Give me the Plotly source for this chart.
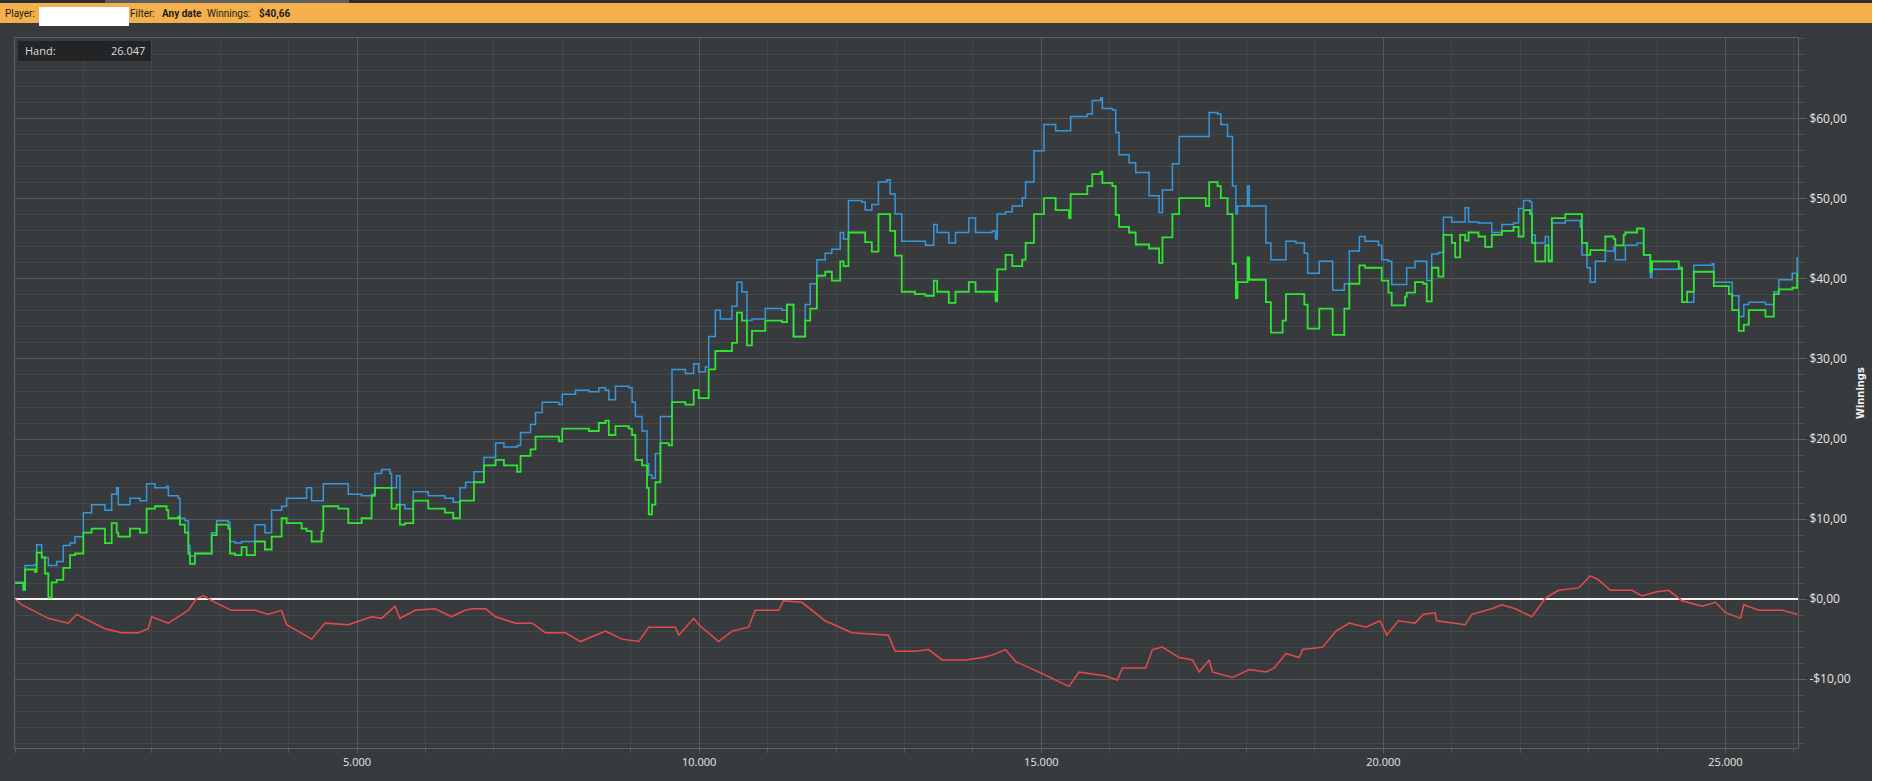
import plotly.graph_objects as go

# DADOS
hands = [0, 122, 146, 292, 317, 390, 438, 487, 536, 609, 706, 804, 877, 999, 1120, 1315, 1413, 1486, 1510,
         1680, 1827, 1924, 2046, 2216, 2241, 2387, 2411, 2484, 2533, 2557, 2630, 2801, 2874, 2947, 3117,
         3142, 3215, 3312, 3385, 3507, 3653, 3751, 3897, 3970, 4189, 4262, 4335, 4481, 4506, 4725, 4871,
         5066, 5212, 5261, 5358, 5480, 5504, 5577, 5626, 5699, 5821, 6040, 6283, 6405, 6503,
         6586, 6708, 6854, 7024, 7146, 7341, 7389, 7535, 7608, 7706, 7949, 7998, 8192, 8387, 8533, 8630,
         8679, 8776, 8971, 9019, 9068, 9165, 9238, 9263, 9311, 9360, 9433, 9555, 9603, 9798, 9920, 9993,
         10090, 10139, 10236, 10309, 10479, 10552, 10625, 10698, 10771, 10966, 11209, 11282, 11379, 11550,
         11623, 11720, 11842, 11939, 12061, 12109, 12182, 12377, 12426, 12523, 12620, 12742, 12791, 12864,
         12961, 13156, 13307, 13429, 13478, 13649, 13746, 13941, 14039, 14283, 14332, 14356, 14478, 14576,
         14722, 14771, 14893, 15039, 15210, 15405, 15429, 15673, 15746, 15868, 15893, 16039, 16088, 16137,
         16283, 16380, 16576, 16722, 16771, 16917, 17015, 17405, 17454, 17576, 17624, 17722, 17795, 17844,
         17868, 18015, 18039, 18259, 18283, 18356, 18527, 18576, 18722, 18844, 18893, 19063, 19259, 19429,
         19502, 19649, 19732, 19927, 19976, 20073, 20122, 20317, 20341, 20463, 20585, 20634, 20707, 20805,
         20878, 21000, 21049, 21122, 21195, 21244, 21390, 21488, 21585, 21732, 21902, 21976, 22049, 22146,
         22171, 22220, 22366, 22415, 22463, 22659, 22878, 22902, 22976, 23024, 23098, 23244, 23366, 23390,
         23512, 23537, 23707, 23805, 23902, 23927, 24122, 24317, 24366, 24439, 24537, 24805, 24829, 25049,
         25098, 25195, 25268, 25341, 25585, 25707, 25780, 25976, 26024, 26047]
showdown = [2.1, 1.1, 4.2, 4.4, 6.8, 5.2, 5.2, 4.2, 4.2, 4.7, 6.7, 7.0, 7.8, 10.8, 11.8, 11.1, 13.1, 13.9, 11.8,
            12.6, 12.3, 14.4, 13.9, 14.1, 12.9, 12.6, 10.1, 9.8, 6.7, 5.4, 5.7, 5.7, 8.3, 9.8, 9.6,
            7.2, 7.0, 7.2, 7.2, 9.3, 8.3, 11.1, 11.6, 12.6, 12.6, 13.9, 12.3, 12.3, 14.4, 14.4, 13.1,
            12.9, 13.1, 15.7, 16.2, 15.7, 13.9, 15.4, 11.8, 11.3, 13.4, 12.9, 12.6, 12.1, 13.9,
            14.6, 15.9, 17.7, 19.5, 19.0, 19.2, 20.8, 21.8, 23.3, 24.6, 24.3, 25.6, 26.1, 25.9, 26.4, 26.1,
            24.9, 26.6, 26.4, 24.6, 22.8, 21.0, 16.9, 15.5, 15.1, 18.2, 22.8, 22.8, 28.7, 28.2, 29.4, 28.4,
            29.0, 32.8, 36.1, 35.0, 36.6, 39.6, 38.4, 34.8, 35.0, 36.3, 36.1, 36.8, 32.8, 36.8,
            39.4, 42.4, 43.2, 43.7, 45.8, 45.0, 49.8, 49.6, 48.6, 49.3, 52.1, 52.4, 50.6, 48.1,
            44.7, 44.7, 44.2, 46.8, 45.8, 44.5, 45.8, 47.6, 45.8, 46.0, 45.0, 48.1, 48.4, 49.1,
            50.1, 52.1, 56.0, 59.3, 58.5, 58.5, 60.3, 60.6, 62.3, 62.6, 61.3, 61.1, 58.3, 55.5,
            54.5, 53.3, 50.4, 48.3, 51.1, 54.4, 57.8, 57.8, 60.8, 60.6, 59.3, 57.8, 51.6, 48.1,
            49.1, 51.6, 49.1, 49.1, 44.5, 42.4, 42.4, 44.7, 44.5, 43.2, 40.7, 42.2, 38.6, 39.4,
            43.5, 45.3, 44.7, 44.2, 42.4, 42.2, 39.3, 39.3, 41.4, 42.2, 42.2, 39.8, 43.1, 43.3,
            47.7, 47.1, 47.1, 47.1, 48.9, 47.1, 47.0, 47.0, 45.8, 46.8, 47.0, 48.8, 49.8, 49.6,
            45.5, 44.5, 45.3, 42.4, 47.0, 47.3, 46.5, 43.0, 41.4, 39.6, 42.2, 43.5, 44.0, 42.4,
            42.4, 44.2, 44.5, 43.0, 40.2, 41.2, 41.2, 41.2, 37.1, 37.1, 41.7, 41.9, 39.6, 39.6,
            37.9, 35.3, 36.8, 37.1, 36.8, 38.4, 39.9, 40.7, 40.7, 42.7]
net_won = [2.0, 1.2, 3.7, 3.4, 5.8, 5.2, 3.2, 0.2, 2.1, 2.4, 3.9, 5.5, 5.7, 8.3, 8.8, 7.0, 9.5, 8.3, 7.8,
           8.8, 8.3, 11.3, 11.6, 11.1, 10.1, 10.3, 9.3, 8.3, 5.7, 4.4, 5.7, 5.7, 8.0, 9.3, 8.8,
           5.7, 5.5, 6.5, 5.5, 7.2, 6.2, 7.8, 10.1, 9.5, 8.8, 8.5, 7.2, 8.5, 11.6, 11.3, 9.5,
           10.1, 12.9, 13.9, 13.9, 13.9, 11.3, 11.8, 9.3, 9.5, 12.3, 11.3, 10.8, 10.1, 12.3,
           12.3, 14.6, 16.7, 17.4, 16.7, 15.9, 17.9, 18.7, 20.3, 20.3, 19.7, 21.3, 21.3, 21.0, 22.0, 22.3,
           20.5, 21.6, 21.3, 20.5, 17.4, 16.7, 13.9, 10.6, 11.8, 14.6, 19.5, 19.2, 24.6, 24.3, 26.1, 25.1,
           25.1, 28.7, 31.0, 31.0, 32.0, 35.8, 34.8, 31.7, 33.5, 34.8, 34.6, 36.8, 32.8, 34.8,
           36.3, 40.4, 40.9, 39.8, 42.2, 41.6, 45.8, 45.8, 44.6, 43.4, 48.1, 48.1, 46.0, 42.9,
           38.4, 38.1, 37.9, 39.8, 38.4, 37.0, 38.4, 39.6, 38.4, 38.4, 37.2, 41.2, 43.0, 41.6,
           42.4, 44.5, 48.1, 50.1, 48.6, 47.6, 50.6, 51.6, 53.1, 53.4, 52.0, 51.6, 48.0, 46.5,
           45.8, 44.3, 43.8, 42.0, 45.2, 48.1, 50.1, 49.1, 52.1, 51.6, 50.1, 48.1, 41.9, 37.6,
           39.6, 42.7, 39.9, 39.9, 37.1, 33.3, 34.8, 38.1, 38.1, 36.8, 33.8, 36.3, 33.0, 36.3,
           39.4, 41.7, 41.4, 41.4, 39.8, 38.3, 36.7, 37.8, 38.3, 39.6, 39.4, 37.2, 41.4, 40.3,
           45.5, 44.5, 42.7, 45.5, 44.8, 45.8, 45.3, 44.0, 45.5, 46.0, 46.5, 45.3, 48.6, 48.1,
           44.5, 42.2, 44.2, 42.2, 47.6, 48.1, 48.1, 44.5, 43.0, 43.6, 43.6, 45.3, 45.0, 44.2,
           45.5, 45.8, 46.3, 43.0, 40.9, 42.2, 42.2, 41.4, 37.1, 38.4, 40.9, 40.9, 39.1, 38.1,
           36.1, 33.5, 34.3, 36.1, 35.3, 38.1, 38.7, 38.9, 38.9, 40.66]

hands_nsd = [0, 97, 487, 779, 901, 1315, 1559, 1802, 1948, 1997, 2241, 2533, 2655, 2752, 2923, 3166, 3507,
             3702, 3897, 3970, 4238, 4335, 4530, 4871, 5212, 5358, 5553, 5626, 5845, 6137, 6381, 6576,
             6684, 6878, 7024, 7316, 7560, 7754, 8046, 8265, 8630, 8873, 9117, 9263, 9652, 9701, 9920,
             9993, 10285, 10479, 10722, 10820, 11160, 11233, 11501, 11842, 12231, 12766, 12864, 13156,
             13356, 13551, 13893, 14137, 14283, 14478, 14624, 15015, 15405, 15551, 15941, 16112, 16185,
             16527, 16624, 16771, 17015, 17210, 17307, 17454, 17502, 17795, 18039, 18283, 18405, 18576,
             18771, 18820, 19112, 19307, 19502, 19746, 19951, 20049, 20220, 20463, 20585, 20756, 20780,
             21049, 21195, 21293, 21585, 21732, 21927, 22171, 22366, 22561, 22854, 23024, 23146, 23317,
             23634, 23780, 23976, 24171, 24366, 24659, 24854, 25000, 25220, 25268, 25488, 25829, 26047]
non_showdown = [0, -0.7, -2.4, -3.0, -1.9, -3.7, -4.2, -4.2, -3.7, -2.2, -3.0, -1.4, 0.1, 0.4, -0.4, -1.4, -1.4,
                -1.9, -1.4, -3.2, -4.5, -5.0, -3.0, -3.2, -2.2, -2.4, -0.9, -2.4, -1.4, -1.2, -2.2, -1.4,
                -1.2, -1.2, -2.2, -3.0, -3.0, -4.2, -4.2, -5.3, -4.0, -5.0, -5.3, -3.5, -3.5, -4.5, -2.4,
                -3.2, -5.3, -4.0, -3.5, -1.4, -1.4, -0.2, -0.4, -2.7, -4.2, -4.5, -6.5, -6.5,
                -6.3, -7.6, -7.6, -7.3, -7.0, -6.3, -7.8, -9.3, -10.9, -9.1, -9.6, -10.1, -8.6,
                -8.6, -6.3, -6.0, -7.3, -7.6, -9.1, -7.6, -9.1, -9.8, -8.8, -9.1, -8.6, -6.8,
                -7.3, -6.3, -6.0, -4.0, -3.0, -3.5, -2.7, -4.5, -2.7, -3.0, -1.9, -1.7, -2.7,
                -3.0, -3.2, -1.9, -1.2, -0.7, -1.2, -2.2, 0.1, 1.1, 1.4, 2.9, 2.4, 1.1,
                1.1, 0.4, 0.9, 1.1, -0.2, -0.9, -0.4, -1.7, -2.4, -0.7, -1.4, -1.4, -1.9]

y_ticks = [-10, 0, 10, 20, 30, 40, 50, 60]
y_labels = ['-$10,00', '$0,00', '$10,00', '$20,00', '$30,00', '$40,00', '$50,00', '$60,00']
x_ticks = [5000, 10000, 15000, 20000, 25000]
x_labels = ['5.000', '10.000', '15.000', '20.000', '25.000']

W, H = 1896, 781
L, R, T, B = 15, 1798, 38, 748   # area do grafico em px


def px(x):
    return (x - L) / (R - L)


def py(y):
    return (B - y) / (B - T)


BG = '#383b3e'
fig = go.Figure()
fig.add_trace(go.Scatter(x=hands, y=showdown, mode='lines', line=dict(color='#3797dc', width=1.5, shape='hv'),
                         name='showdown'))
fig.add_trace(go.Scatter(x=hands, y=net_won, mode='lines', line=dict(color='#2fe52f', width=1.8, shape='hv'),
                         name='net won'))
fig.add_trace(go.Scatter(x=hands_nsd, y=non_showdown, mode='lines', line=dict(color='#e84a4a', width=1.5),
                         name='non showdown'))

fig.update_layout(
    width=W, height=H, showlegend=False,
    paper_bgcolor=BG, plot_bgcolor=BG,
    margin=dict(l=L, r=W - R, t=T, b=H - B),
    font=dict(family='Open Sans, Noto Sans, sans-serif', color='#e6e6e6', size=11),
    xaxis=dict(range=[0, 26060], tickvals=x_ticks, ticktext=x_labels, showgrid=True, gridcolor='#56595c',
               gridwidth=1, zeroline=False, showline=True, linecolor='#5f6265', mirror=True,
               ticks='outside', ticklen=4, tickcolor='#5f6265', tickfont=dict(size=11, color='#e6e6e6'),
               minor=dict(dtick=1000, tick0=0, showgrid=True, gridcolor='#45484b', ticks='outside',
                          ticklen=4, tickcolor='#55585b')),
    yaxis=dict(range=[-18.6, 70.1], side='right', tickvals=y_ticks, ticktext=y_labels, showgrid=True,
               gridcolor='#56595c', zeroline=True, zerolinecolor='#f4f4f4', zerolinewidth=2,
               showline=True, linecolor='#5f6265', mirror=True, ticks='outside', ticklen=8,
               tickcolor='#5f6265', tickfont=dict(size=12, color='#e6e6e6'),
               minor=dict(dtick=2, tick0=0, showgrid=True, gridcolor='#45484b', ticks='outside',
                          ticklen=4, tickcolor='#55585b')),
)

# barra de cima, caixa Hand, faixa branca a direita
shapes = [
    dict(type='rect', xref='paper', yref='paper', x0=px(0), x1=px(1872), y0=py(3), y1=py(0),
         fillcolor='#2c2e31', line_width=0, layer='above'),
    dict(type='rect', xref='paper', yref='paper', x0=px(105), x1=px(349), y0=py(3), y1=py(0),
         fillcolor='#5b5e62', line_width=0, layer='above'),
    dict(type='rect', xref='paper', yref='paper', x0=px(0), x1=px(1872), y0=py(23), y1=py(3),
         fillcolor='#f3b04b', line_width=0, layer='above'),
    dict(type='rect', xref='paper', yref='paper', x0=px(39), x1=px(129), y0=py(26), y1=py(7),
         fillcolor='white', line_width=0, layer='above'),
    dict(type='rect', xref='paper', yref='paper', x0=px(18), x1=px(151), y0=py(61), y1=py(41),
         fillcolor='#222426', line_width=0, layer='above'),
    dict(type='rect', xref='paper', yref='paper', x0=px(1872), x1=px(1900), y0=py(785), y1=py(-5),
         fillcolor='white', line_width=0, layer='above'),
]
fig.update_layout(shapes=shapes)

hdr = dict(size=10, color='#1b1b1b', family='Roboto, Noto Sans, sans-serif')
notes = [
    (4, 'Player:'), (129, 'Filter:'), (161, '<b>Any date</b>'), (206, 'Winnings:'), (258, '<b>$40,66</b>'),
]
for x0, txt in notes:
    fig.add_annotation(x=px(x0), y=py(13), xref='paper', yref='paper', text=txt, showarrow=False,
                       xanchor='left', yanchor='middle', font=hdr, xshift=-1)

fig.add_annotation(x=px(23), y=py(51), xref='paper', yref='paper', text='Hand:', showarrow=False,
                   xanchor='left', yanchor='middle', font=dict(size=11, color='#dcdcdc'))
fig.add_annotation(x=px(147), y=py(51), xref='paper', yref='paper', text='26.047', showarrow=False,
                   xanchor='right', yanchor='middle', font=dict(size=11, color='#dcdcdc'))
fig.add_annotation(x=px(1860), y=py(393), xref='paper', yref='paper', text='<b>Winnings</b>', showarrow=False,
                   textangle=-90, xanchor='center', yanchor='middle',
                   font=dict(size=11, color='#f0f0f0', family='DejaVu Sans Condensed, Liberation Sans Narrow, sans-serif'))

# tira a margem do body para o grafico ficar no canto
fig.write_html("out.html", config={'displayModeBar': False},
               post_script="document.body.style.margin='0';document.body.style.overflow='hidden';")
